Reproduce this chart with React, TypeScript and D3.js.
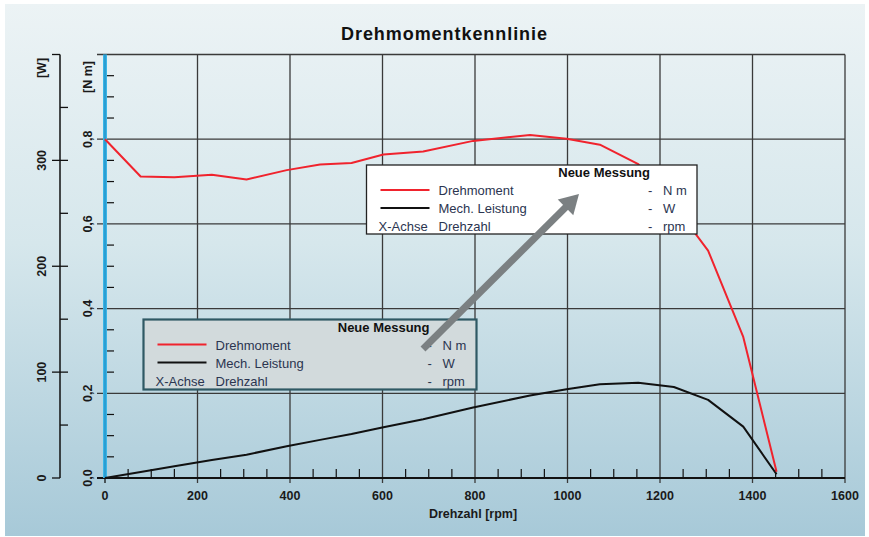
import React from "react";
import * as d3 from "d3";

// ---- data ----
const rpm = [0, 77, 150, 231, 306, 393, 465, 533, 602, 688, 796, 919, 998, 1070, 1153, 1230, 1304, 1380, 1452];
const torqueNm = [0.8, 0.712, 0.71, 0.716, 0.705, 0.727, 0.74, 0.744, 0.764, 0.771, 0.796, 0.81, 0.801, 0.787, 0.741, 0.645, 0.537, 0.333, 0.015];
const powerW = [0, 5.7, 11, 17, 22, 30, 36, 41.5, 48, 55.5, 66.5, 78, 83.8, 88.5, 90, 86, 73.8, 48.5, 3.5];

const xTicks = [0, 200, 400, 600, 800, 1000, 1200, 1400, 1600];
const nmTicks = [0, 0.2, 0.4, 0.6, 0.8];
const nmTickLabels = ["0,0", "0,2", "0,4", "0,6", "0,8"];
const wTicks = [0, 100, 200, 300];
const legendNames = ["Drehmoment", "Mech. Leistung"];
const legendUnits = ["N m", "W", "rpm"];

const W = 869, H = 537;
const L = 105, R = 845, T = 54.5, B = 478;
const WAXIS = 60;

export default function App() {
  const x = d3.scaleLinear().domain([0, 1600]).range([L, R]);
  const yNm = d3.scaleLinear().domain([0, 1]).range([B, T]);
  const yW = d3.scaleLinear().domain([0, 400]).range([B, T]);

  const torqueLine = d3.line<number>().x((_, i) => x(rpm[i])).y((d) => yNm(d))(torqueNm) || "";
  const powerLine = d3.line<number>().x((_, i) => x(rpm[i])).y((d) => yW(d))(powerW) || "";

  const minorX = d3.range(0, 1601, 50).filter((v) => v % 200 !== 0);
  const minorNm = d3.range(0, 1.0001, 0.05).filter((v) => Math.abs(v * 5 - Math.round(v * 5)) > 1e-6);
  const minorW = d3.range(50, 400, 100);

  const font = "'Liberation Sans', Arial, sans-serif";
  const grid = "#3a3a3a";

  // arrow geometry
  const a0 = [423, 349], tip = [579, 194];
  const len = Math.hypot(tip[0] - a0[0], tip[1] - a0[1]);
  const u = [(tip[0] - a0[0]) / len, (tip[1] - a0[1]) / len];
  const n = [-u[1], u[0]];
  const base = [tip[0] - 19 * u[0], tip[1] - 19 * u[1]];
  const head = [
    tip,
    [base[0] + 11 * n[0], base[1] + 11 * n[1]],
    [base[0] - 11 * n[0], base[1] - 11 * n[1]],
  ];

  const legend = (
    lx: number, ly: number, lw: number, lh: number, fill: string, stroke: string, sw: number, key: string
  ) => (
    <g key={key}>
      <rect x={lx} y={ly} width={lw} height={lh} fill={fill} stroke={stroke} strokeWidth={sw} />
      <text x={lx + lw - 47} y={ly + 12} fontFamily={font} fontSize={13} fontWeight="bold" fill="#111" textAnchor="end">Neue Messung</text>
      {legendNames.map((nm, i) => (
        <g key={nm}>
          <line x1={lx + 14} x2={lx + 63} y1={ly + 25 + i * 18} y2={ly + 25 + i * 18} stroke={i === 0 ? "#f0232d" : "#111"} strokeWidth={2} />
          <text x={lx + 72} y={ly + 30 + i * 18} fontFamily={font} fontSize={13} fill="#2b3550">{nm}</text>
        </g>
      ))}
      <text x={lx + 12} y={ly + 66} fontFamily={font} fontSize={13} fill="#2b3550">X-Achse</text>
      <text x={lx + 72} y={ly + 66} fontFamily={font} fontSize={13} fill="#2b3550">Drehzahl</text>
      {legendUnits.map((un, i) => (
        <g key={un}>
          <text x={lx + lw - 49} y={ly + 30 + i * 18} fontFamily={font} fontSize={13} fill="#2b3550">-</text>
          <text x={lx + lw - 34} y={ly + 30 + i * 18} fontFamily={font} fontSize={13} fill="#2b3550">{un}</text>
        </g>
      ))}
    </g>
  );

  return (
    <svg width={W} height={H} style={{ position: "absolute", left: 0, top: 0, background: "#fff" }}>
      <defs>
        <linearGradient id="bg" x1="0" y1="0" x2="0" y2="1">
          <stop offset="0" stopColor="#ecf3f5" />
          <stop offset="0.45" stopColor="#d6e7ec" />
          <stop offset="1" stopColor="#a7c9d8" />
        </linearGradient>
      </defs>
      <rect x={5} y={4} width={860} height={532} fill="url(#bg)" />

      <text x={444} y={40} textAnchor="middle" fontFamily={font} fontSize={18} fontWeight="bold" fill="#111" textLength={206} lengthAdjust="spacing">Drehmomentkennlinie</text>

      {/* grid */}
      {xTicks.slice(1).map((v) => (
        <line key={"gx" + v} x1={x(v)} x2={x(v)} y1={T} y2={B + 5} stroke={grid} strokeWidth={1.3} />
      ))}
      {[...nmTicks.slice(1), 1].map((v) => (
        <line key={"gy" + v} x1={L - 8} x2={R} y1={yNm(v)} y2={yNm(v)} stroke={grid} strokeWidth={1.3} />
      ))}

      {/* x minor ticks */}
      {minorX.map((v) => (
        <line key={"mx" + v} x1={x(v)} x2={x(v)} y1={B} y2={B - 9} stroke="#111" strokeWidth={1.2} />
      ))}
      {/* Nm minor ticks */}
      {minorNm.map((v) => (
        <line key={"mn" + v} x1={L} x2={L + 9} y1={yNm(v)} y2={yNm(v)} stroke="#111" strokeWidth={1.2} />
      ))}

      {/* W axis */}
      <line x1={WAXIS} x2={WAXIS} y1={T} y2={B} stroke="#111" strokeWidth={1.5} />
      {wTicks.map((v) => (
        <line key={"wt" + v} x1={v === 0 ? WAXIS - 8 : WAXIS - 8} x2={v === 0 ? WAXIS : WAXIS + 8} y1={yW(v)} y2={yW(v)} stroke="#111" strokeWidth={1.3} />
      ))}
      <line x1={WAXIS - 8} x2={WAXIS} y1={yW(400)} y2={yW(400)} stroke="#111" strokeWidth={1.3} />
      {minorW.map((v) => (
        <line key={"wm" + v} x1={WAXIS} x2={WAXIS + 8} y1={yW(v)} y2={yW(v)} stroke="#111" strokeWidth={1.3} />
      ))}
      {wTicks.map((v) => (
        <text key={"wl" + v} transform={`translate(${WAXIS - 14},${yW(v)}) rotate(-90)`} textAnchor="middle" fontFamily={font} fontSize={12.5} fontWeight="bold" fill="#1a1a1a">{v}</text>
      ))}
      <text transform={`translate(${WAXIS - 14},68) rotate(-90)`} textAnchor="middle" fontFamily={font} fontSize={12.5} fontWeight="bold" fill="#1a1a1a">[W]</text>

      {/* Nm labels */}
      {nmTicks.map((v, i) => (
        <text key={"nl" + v} transform={`translate(${L - 13},${yNm(v)}) rotate(-90)`} textAnchor="middle" fontFamily={font} fontSize={12.5} fontWeight="bold" fill="#1a1a1a">{nmTickLabels[i]}</text>
      ))}
      <text transform={`translate(${L - 13},77) rotate(-90)`} textAnchor="middle" fontFamily={font} fontSize={12.5} fontWeight="bold" fill="#1a1a1a">[N m]</text>

      {/* x axis */}
      <line x1={L - 8} x2={R} y1={B} y2={B} stroke="#111" strokeWidth={2.2} />
      <line x1={L} x2={L} y1={B} y2={B + 5} stroke="#111" strokeWidth={1.3} />
      {xTicks.map((v) => (
        <text key={"xl" + v} x={x(v)} y={B + 22} textAnchor="middle" fontFamily={font} fontSize={12.5} fontWeight="bold" fill="#1a1a1a">{v}</text>
      ))}
      <text x={473} y={518} textAnchor="middle" fontFamily={font} fontSize={12.5} fontWeight="bold" fill="#1a1a1a">Drehzahl [rpm]</text>

      {/* Nm axis (blue) */}
      <rect x={L - 2} y={T} width={4} height={B - T} fill="#3cb6e6" />
      <line x1={L} x2={L} y1={T} y2={B} stroke="#1a86c0" strokeWidth={1} />

      {/* series */}
      <path d={powerLine} fill="none" stroke="#111" strokeWidth={2} strokeLinejoin="round" />
      <path d={torqueLine} fill="none" stroke="#f0232d" strokeWidth={2} strokeLinejoin="round" />

      {/* legends */}
      {legend(366.5, 165, 330.5, 69, "#ffffff", "#222", 1.3, "l1")}
      {legend(143.5, 319.5, 333, 70, "#d2dadc", "#2f5964", 2.2, "l2")}

      {/* arrow */}
      <line x1={a0[0]} y1={a0[1]} x2={base[0] + 2 * u[0]} y2={base[1] + 2 * u[1]} stroke="#7b8082" strokeWidth={7} />
      <polygon points={head.map((p) => p.join(",")).join(" ")} fill="#7b8082" />
    </svg>
  );
}
